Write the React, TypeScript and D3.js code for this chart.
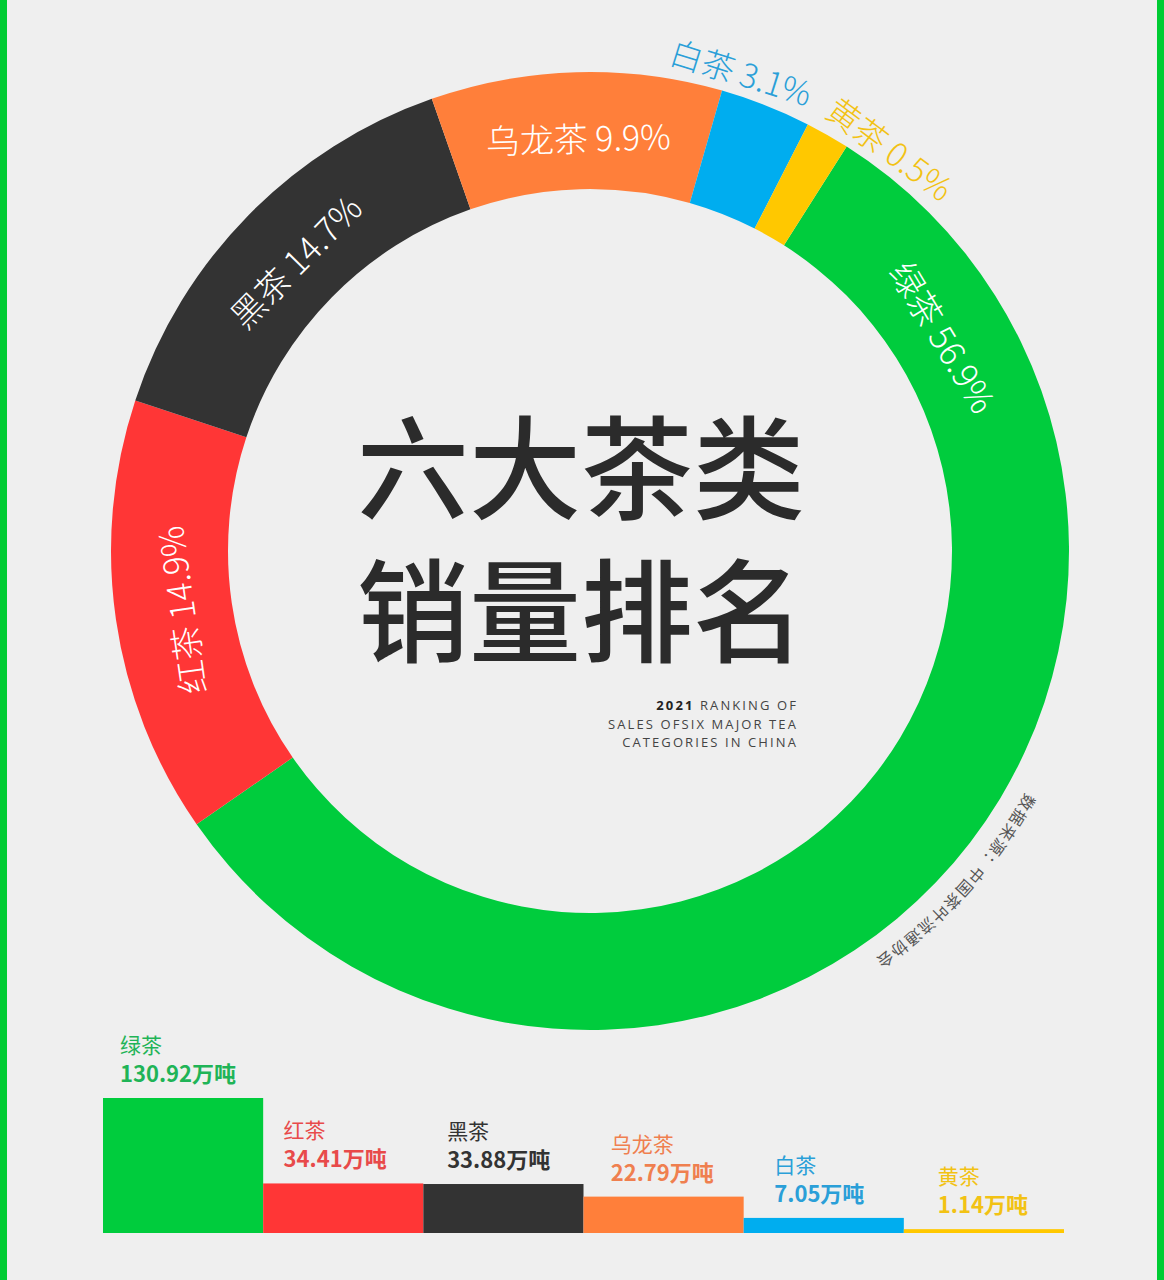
import React from 'react';
import * as d3 from 'd3';

// Data
const categories = ['绿茶', '红茶', '黑茶', '乌龙茶', '白茶', '黄茶'];
const shares = [56.9, 14.9, 14.7, 9.9, 3.1, 0.5]; // %
const sales = [130.92, 34.41, 33.88, 22.79, 7.05, 1.14]; // 万吨
const titleLines = ['六大茶类', '销量排名'];
const subtitleLines = ['RANKING OF', 'SALES OFSIX MAJOR TEA', 'CATEGORIES IN CHINA'];
const subtitleYear = '2021';
const sourceText = '数据来源：中国茶叶流通协会';

// Styles
const ringColors = ['#00cc3d', '#ff3636', '#333333', '#ff7f3a', '#00adef', '#ffc800'];
const textColors = ['#1fb457', '#e84a4a', '#333333', '#ef7f4f', '#2a9fd8', '#f2c214'];
const outside = [false, false, false, false, true, true];
const labelShift = [-75, 0, 0, 0, -4, 7]; // degrees, moves label off the slice middle

const W = 1164;
const H = 1280;
const cx = 590;
const cy = 551;
const rOuter = 479;
const rInner = 362;
const minShare = 1.5; // smallest slice is widened so it stays visible
const startDeg = 32.4;

const rad = (d: number) => (d * Math.PI) / 180;
const deg = (r: number) => (r * 180) / Math.PI;
const font = '"Noto Sans CJK SC", "Noto Sans", sans-serif';

export default function App() {
  const pie = d3
    .pie<number>()
    .sort(null)
    .value((d) => Math.max(d, minShare))
    .startAngle(rad(startDeg))
    .endAngle(rad(startDeg + 360));
  const arcs = pie(shares);
  const arc = d3.arc<d3.PieArcDatum<number>>().innerRadius(rInner).outerRadius(rOuter);

  // bar chart
  const x = d3.scaleBand().domain(categories).range([103, 1064]).padding(0);
  const h = d3.scalePow().exponent(0.75).domain([0, 130.92]).range([0, 135]);
  const base = 1233;

  // source text path (clockwise arc outside the ring)
  const srcPath = d3.path();
  srcPath.arc(cx, cy, 498, rad(119 - 90), rad(160 - 90));

  return (
    <svg
      width={W}
      height={H}
      style={{ position: 'absolute', left: 0, top: 0, display: 'block' }}
    >
      <rect width={W} height={H} fill="#efefef" />
      <rect x={0} y={0} width={7} height={H} fill="#00cc33" />
      <rect x={W - 7} y={0} width={7} height={H} fill="#00cc33" />

      {/* Donut */}
      <g transform={`translate(${cx},${cy})`}>
        {arcs.map((a, i) => (
          <path key={categories[i]} d={arc(a) || ''} fill={ringColors[i]} />
        ))}
        {arcs.map((a, i) => {
          const mid = deg((a.startAngle + a.endAngle) / 2) + labelShift[i];
          const r = outside[i] ? 503 : 414;
          const lx = r * Math.sin(rad(mid));
          const ly = -r * Math.cos(rad(mid));
          let rot = ((mid % 360) + 360) % 360;
          if (rot > 180) rot -= 360;
          return (
            <text
              key={'l' + i}
              transform={`translate(${lx},${ly}) rotate(${rot})`}
              textAnchor="middle"
              dominantBaseline="central"
              fontFamily={font}
              fontSize={outside[i] ? 33 : 34}
              fontWeight={300}
              fill={outside[i] ? textColors[i] : '#ffffff'}
            >
              {`${categories[i]} ${shares[i]}%`}
            </text>
          );
        })}
      </g>

      {/* Title */}
      {titleLines.map((t, i) => (
        <text
          key={t}
          x={581}
          y={511 + i * 143}
          textAnchor="middle"
          fontFamily={font}
          fontSize={112}
          fontWeight={500}
          fill="#2b2b2b"
        >
          {t}
        </text>
      ))}
      {subtitleLines.map((t, i) => (
        <text
          key={t}
          x={798}
          y={710 + i * 18.5}
          textAnchor="end"
          fontFamily='"Open Sans", "Noto Sans", sans-serif'
          fontSize={13}
          letterSpacing={2.1}
          fill="#444"
        >
          {i === 0 && (
            <tspan fontWeight={700} fill="#222">
              {subtitleYear + ' '}
            </tspan>
          )}
          {t}
        </text>
      ))}

      {/* Source */}
      <path id="srcArc" d={srcPath.toString()} fill="none" />
      <text fontFamily={font} fontSize={16} letterSpacing={1.5} fill="#555">
        <textPath href="#srcArc">{sourceText}</textPath>
      </text>

      {/* Bars */}
      {categories.map((c, i) => {
        const bx = x(c) as number;
        const bh = h(sales[i]);
        const top = base - bh;
        const tx = bx + 17 + i * 3.4;
        return (
          <g key={'b' + c}>
            <rect x={bx} y={top} width={x.bandwidth()} height={bh} fill={ringColors[i]} />
            <text x={tx} y={top - 45} fontFamily={font} fontSize={21} fill={textColors[i]}>
              {c}
            </text>
            <text
              x={tx}
              y={top - 16}
              fontFamily={font}
              fontSize={22}
              fontWeight={700}
              fill={textColors[i]}
            >
              {`${sales[i]}万吨`}
            </text>
          </g>
        );
      })}
    </svg>
  );
}
